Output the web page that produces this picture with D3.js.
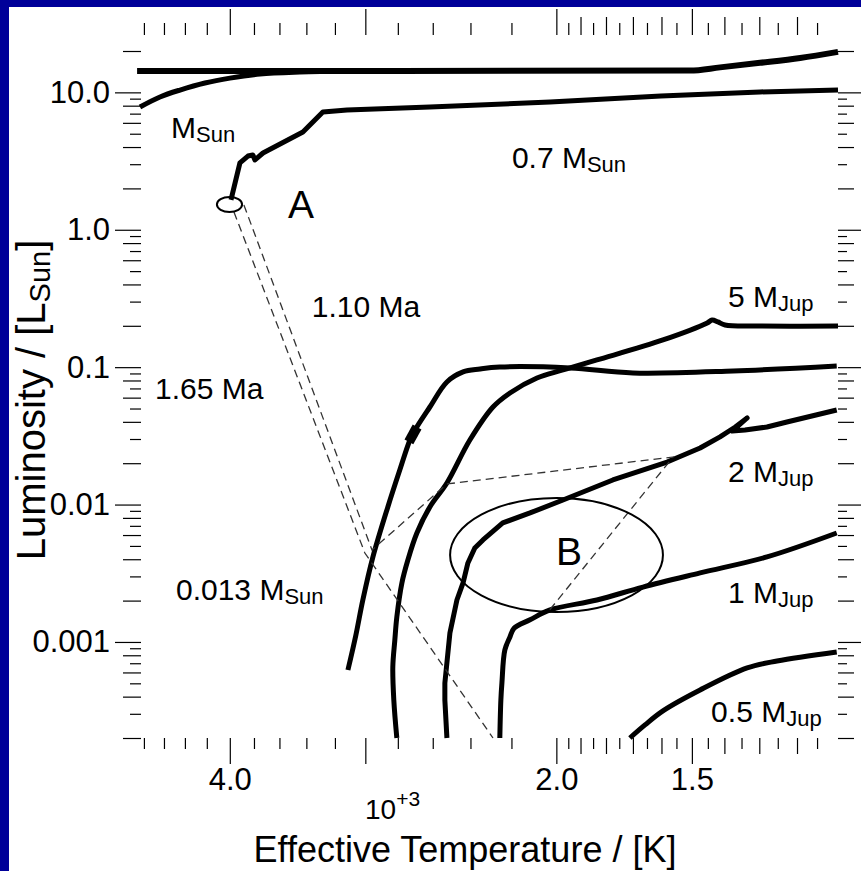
<!DOCTYPE html>
<html>
<head>
<meta charset="utf-8">
<script src="https://cdn.jsdelivr.net/npm/d3@7"></script>
<style>
  html, body { margin: 0; padding: 0; background: #fff; overflow: hidden; }
  svg { display: block; }
  svg text { font-family: "Liberation Sans", Arial, sans-serif; fill: #000; }
</style>
</head>
<body>
<svg id="chart"></svg>
<script>
const width = 861;
const height = 871;

// evolutionary tracks: effective temperature [K] and luminosity [L_Sun]
const topTrackT = [4870, 2788, 1506, 1413, 1298, 1192, 1100];
const topTrackL = [14.3, 14.3, 14.4, 15.2, 16.4, 17.8, 19.7];

const sunArcT = [4840, 4639, 4446, 4217, 3999, 3752, 3447, 3100];
const sunArcL = [7.83, 9.26, 10.4, 11.7, 12.7, 13.6, 14.06, 14.3];

const sevenTenthsT = [3990, 3915, 3849, 3809, 3792, 3728, 3425, 3283, 3119, 2616, 2027, 1602, 1298, 1100];
const sevenTenthsL = [1.65, 3.07, 3.44, 3.50, 3.22, 3.62, 5.14, 7.20, 7.44, 7.83, 8.51, 9.41, 10.07, 10.4];

const bdTrackT = [3113, 3061, 3016, 2952, 2860, 2788, 2729, 2700, 2616, 2523, 2438, 2352, 2255, 1943, 1700, 1374, 1103];
const bdTrackL = [6.25e-4, 1.12e-3, 2.02e-3, 4.16e-3, 9.61e-3, 0.0179, 0.0295, 0.0349, 0.0513, 0.0780, 0.0923, 0.0970, 0.1003, 0.0987, 0.0907, 0.0938, 0.102];

const bdBlobT = [2735, 2688];
const bdBlobL = [0.0286, 0.0367];

const fiveJupT = [2806, 2824, 2830, 2818, 2806, 2776, 2741, 2689, 2616, 2523, 2403, 2288, 2207, 2084, 1972, 1835, 1595, 1452, 1437, 1419, 1398, 1298, 1100];
const fiveJupL = [2.0e-4, 3.78e-4, 6.58e-4, 1.03e-3, 1.52e-3, 2.69e-3, 3.95e-3, 6.21e-3, 9.61e-3, 0.01436, 0.0295, 0.0513, 0.0649, 0.0834, 0.0954, 0.1128, 0.1577, 0.2097, 0.2206, 0.2133, 0.2028, 0.1994, 0.1994];

const twoJupT = [2523, 2534, 2534, 2507, 2470, 2438, 2413, 2378, 2337, 2241, 2115, 1972, 1774, 1581, 1474, 1413, 1368, 1334, 1377, 1340, 1279, 1226, 1103];
const twoJupL = [2.0e-4, 3.78e-4, 5.03e-4, 1.163e-3, 2.02e-3, 2.69e-3, 3.76e-3, 4.83e-3, 5.53e-3, 7.35e-3, 8.69e-3, 0.0108, 0.0151, 0.0204, 0.0258, 0.0311, 0.0367, 0.0427, 0.0343, 0.0349, 0.0367, 0.0399, 0.0488];

const oneJupT = [2255, 2250, 2245, 2231, 2207, 2188, 2115, 2027, 1835, 1664, 1474, 1279, 1103];
const oneJupL = [2.0e-4, 3.78e-4, 5.03e-4, 8.75e-4, 1.087e-3, 1.26e-3, 1.45e-3, 1.71e-3, 2.02e-3, 2.51e-3, 3.18e-3, 4.16e-3, 6.21e-3];

const halfJupT = [1711, 1657, 1595, 1474, 1334, 1252, 1103];
const halfJupL = [2.0e-4, 2.49e-4, 3.15e-4, 4.47e-4, 6.47e-4, 7.27e-4, 8.46e-4];

// dashed isochrone connectors
const dashLeftT = [3965, 3003, 2288];
const dashLeftL = [1.348, 4.44e-3, 2.0e-4];
const dashRightT = [3882, 2958, 2523, 1561, 2036];
const dashRightL = [1.516, 4.67e-3, 0.01412, 0.0222, 1.65e-3];

// error ellipses A and B (temperature span, luminosity span)
const ellipseAT = [4111, 3897];
const ellipseAL = [1.347, 1.731];
const ellipseBT = [2506, 1595];
const ellipseBL = [0.001652, 0.01116];

// annotations
const annotText = ['M', 'A', '0.7 M', '1.10 Ma', '1.65 Ma', '5 M', '2 M', 'B', '0.013 M', '1 M', '0.5 M'];
const annotSub = ['Sun', '', 'Sun', '', '', 'Jup', 'Jup', '', 'Sun', 'Jup', 'Jup'];
const annotTemp = [4531, 3536, 2198, 3361, 4688, 1389, 1389, 2001, 4484, 1389, 1440];
const annotLum = [4.66, 1.22, 2.82, 0.232, 0.0587, 0.274, 0.0146, 3.63e-3, 2.02e-3, 1.92e-3, 2.62e-4];

// axis ticks
const xMajorTicks = [4000, 3000, 2000, 1500];
const xLabelTicks = [4000, 2000, 1500];
const xLabels = ['4.0', '2.0', '1.5'];
const xMediumTicks = [1900, 1800, 1700, 1600, 1400, 1300, 1200];
const xMinorTicks = [4800, 4600, 4400, 4200, 3800, 3600, 3400, 3200, 2800, 2600, 2400, 2200,
  1950, 1850, 1750, 1650, 1550, 1450, 1350, 1250, 1150];
const yMajorTicks = [10, 1, 0.1, 0.01, 0.001];
const yLabels = ['10.0', '1.0', '0.1', '0.01', '0.001'];
const yDecades = [1e-4, 1e-3, 1e-2, 1e-1, 1, 10];
const yLongMult = [2, 4, 6, 8];
const yShortMult = [3, 5, 7, 9];

const plot = { left: 140, right: 838, top: 51, bottom: 738 };
const axisPos = { left: 141, right: 838, top: 35, bottom: 738 };

const svg = d3.select('#chart')
  .attr('width', width)
  .attr('height', height);

svg.append('rect').attr('width', width).attr('height', height).attr('fill', '#000099');
svg.append('rect').attr('x', 9).attr('y', 7).attr('width', width).attr('height', height).attr('fill', '#fff');

const xScale = d3.scaleLog().domain([4840, 1100]).range([plot.left, plot.right]);
const yScale = d3.scaleLog().domain([20, 2e-4]).range([plot.top, plot.bottom]);

const zip = (ts, ls) => ts.map((t, i) => [t, ls[i]]);

const tracks = [
  { pts: zip(topTrackT, topTrackL), w: 6, curve: d3.curveMonotoneX },
  { pts: zip(sunArcT, sunArcL), w: 5, curve: d3.curveCatmullRom },
  { pts: zip(sevenTenthsT, sevenTenthsL), w: 5, curve: d3.curveLinear },
  { pts: zip(bdTrackT, bdTrackL), w: 5, curve: d3.curveCatmullRom },
  { pts: zip(bdBlobT, bdBlobL), w: 10, curve: d3.curveLinear },
  { pts: zip(fiveJupT, fiveJupL), w: 5, curve: d3.curveCatmullRom },
  { pts: zip(twoJupT, twoJupL), w: 5, curve: d3.curveLinear },
  { pts: zip(oneJupT, oneJupL), w: 5, curve: d3.curveCatmullRom },
  { pts: zip(halfJupT, halfJupL), w: 5, curve: d3.curveCatmullRom }
];

const groupTracks = svg.append('g').attr('class', 'tracks');

tracks.forEach(track => {
  const line = d3.line()
    .x(d => xScale(d[0]))
    .y(d => yScale(d[1]))
    .curve(track.curve);
  groupTracks.append('path')
    .attr('d', line(track.pts))
    .attr('fill', 'none')
    .attr('stroke', '#000')
    .attr('stroke-width', track.w)
    .attr('stroke-linejoin', 'round');
});

const dashLine = d3.line().x(d => xScale(d[0])).y(d => yScale(d[1]));

[zip(dashLeftT, dashLeftL), zip(dashRightT, dashRightL)].forEach(pts => {
  svg.append('path')
    .attr('d', dashLine(pts))
    .attr('fill', 'none')
    .attr('stroke', '#333')
    .attr('stroke-width', 1.3)
    .attr('stroke-dasharray', '8,5');
});

[[ellipseAT, ellipseAL], [ellipseBT, ellipseBL]].forEach(([ts, ls]) => {
  const x0 = xScale(ts[0]), x1 = xScale(ts[1]);
  const y0 = yScale(ls[0]), y1 = yScale(ls[1]);
  svg.append('ellipse')
    .attr('cx', (x0 + x1) / 2)
    .attr('cy', (y0 + y1) / 2)
    .attr('rx', Math.abs(x1 - x0) / 2)
    .attr('ry', Math.abs(y1 - y0) / 2)
    .attr('fill', 'none')
    .attr('stroke', '#000')
    .attr('stroke-width', 2);
});

annotText.forEach((txt, i) => {
  const big = annotSub[i] === '' && txt.length === 1;
  const label = svg.append('text')
    .attr('x', xScale(annotTemp[i]))
    .attr('y', yScale(annotLum[i]))
    .attr('font-size', big ? 39 : 30);
  label.append('tspan').text(txt);
  if (annotSub[i]) {
    label.append('tspan').attr('font-size', 22).attr('dy', 4).text(annotSub[i]);
  }
});

// axes: ticks only, IDL style
const styleAxis = g => {
  g.select('.domain').remove();
  g.selectAll('line').attr('stroke', '#000').attr('stroke-width', 1.2);
  g.selectAll('text').attr('font-family', '"Liberation Sans", Arial, sans-serif').attr('font-size', 31).attr('fill', '#000');
};

const addAxis = (axis, x, y) => svg.append('g')
  .attr('transform', `translate(${x},${y})`)
  .call(axis)
  .call(styleAxis);

// top
addAxis(d3.axisTop(xScale).tickValues(xMajorTicks).tickSize(26).tickFormat(''), 0, axisPos.top);
addAxis(d3.axisTop(xScale).tickValues(xMediumTicks).tickSize(18).tickFormat(''), 0, axisPos.top);
addAxis(d3.axisTop(xScale).tickValues(xMinorTicks).tickSize(12).tickFormat(''), 0, axisPos.top);

// bottom
addAxis(d3.axisBottom(xScale).tickValues(xMajorTicks).tickSize(26)
  .tickPadding(4).tickFormat(d => xLabels[xLabelTicks.indexOf(d)] || ''), 0, axisPos.bottom);
addAxis(d3.axisBottom(xScale).tickValues(xMediumTicks).tickSize(16).tickFormat(''), 0, axisPos.bottom);
addAxis(d3.axisBottom(xScale).tickValues(xMinorTicks).tickSize(11).tickFormat(''), 0, axisPos.bottom);

const yLongTicks = yDecades.flatMap(d => yLongMult.map(m => d * m)).filter(v => v >= 1.9e-4 && v <= 21);
const yShortTicks = yDecades.flatMap(d => yShortMult.map(m => d * m)).filter(v => v >= 1.9e-4 && v <= 21);

// left
addAxis(d3.axisLeft(yScale).tickValues(yMajorTicks).tickSize(26)
  .tickPadding(5).tickFormat(d => yLabels[yMajorTicks.indexOf(d)]), axisPos.left, 0);
addAxis(d3.axisLeft(yScale).tickValues(yLongTicks).tickSize(18).tickFormat(''), axisPos.left, 0);
addAxis(d3.axisLeft(yScale).tickValues(yShortTicks).tickSize(11).tickFormat(''), axisPos.left, 0);

// right
addAxis(d3.axisRight(yScale).tickValues(yMajorTicks).tickSize(26).tickFormat(''), axisPos.right, 0);
addAxis(d3.axisRight(yScale).tickValues(yLongTicks).tickSize(16).tickFormat(''), axisPos.right, 0);
addAxis(d3.axisRight(yScale).tickValues(yShortTicks).tickSize(9).tickFormat(''), axisPos.right, 0);

// exponent and axis titles
const expLabel = svg.append('text').attr('x', 365).attr('y', 819).attr('font-size', 28);
expLabel.append('tspan').text('10');
expLabel.append('tspan').attr('font-size', 21).attr('dy', -13).text('+3');

svg.append('text')
  .attr('x', 465)
  .attr('y', 862)
  .attr('text-anchor', 'middle')
  .attr('font-size', 36)
  .text('Effective Temperature / [K]');

const yTitle = svg.append('text')
  .attr('transform', 'translate(45,400) rotate(-90)')
  .attr('text-anchor', 'middle')
  .attr('font-size', 40);
yTitle.append('tspan').text('Luminosity / [L');
yTitle.append('tspan').attr('font-size', 29).attr('dy', 5).text('Sun');
yTitle.append('tspan').attr('dy', -5).text(']');
</script>
</body>
</html>
